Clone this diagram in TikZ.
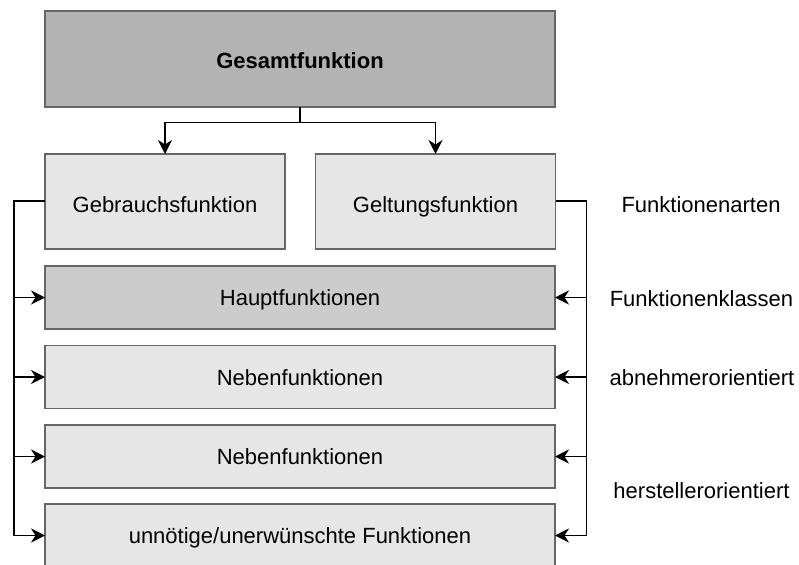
\documentclass[tikz,border=0pt]{standalone}
\usepackage{fontspec}
\setmainfont{Liberation Sans}
\usetikzlibrary{arrows.meta}
\definecolor{strokegray}{HTML}{666666}
\definecolor{filldark}{HTML}{B3B3B3}
\definecolor{fillmid}{HTML}{CCCCCC}
\definecolor{filllight}{HTML}{E6E6E6}
\tikzset{
  fbox/.style={draw=strokegray, line width=1.3pt, inner sep=0pt, outer sep=0pt,
    font=\fontsize{22}{26}\selectfont, text depth=0pt, text height=16.75pt},
  widebox/.style={fbox, minimum width=510pt, minimum height=63pt},
  halfbox/.style={fbox, fill=filllight, minimum width=240pt, minimum height=95pt,
    text height=21.75pt},
  link/.style={line width=1.6pt, draw=black},
  arr/.style={link, -{Stealth[length=14pt, width=14pt, inset=4.5pt]}},
  sidelabel/.style={font=\fontsize{22}{26}\selectfont, inner sep=0pt,
    text height=15.75pt, text depth=0pt}
}
\begin{document}
\begin{tikzpicture}[x=1pt, y=-1pt]
  \clip (0,0) rectangle (799,564);
  \fill[white] (0,0) rectangle (799,564);

  % top level
  \node[fbox, fill=filldark, minimum width=510pt, minimum height=96pt,
        text height=19.75pt,
        font=\fontsize{22}{26}\selectfont\bfseries] (ges) at (300,59) {Gesamtfunktion};

  % kinds of function
  \node[halfbox] (geb) at (165,201.5) {Gebrauchsfunktion};
  \node[halfbox] (gel) at (435.5,201.5) {Geltungsfunktion};

  % classes of function
  \node[widebox, fill=fillmid]   (haupt) at (300,297.5) {Hauptfunktionen};
  \node[widebox, fill=filllight] (nebA)  at (300,377)   {Nebenfunktionen};
  \node[widebox, fill=filllight] (nebB)  at (300,456.5) {Nebenfunktionen};
  \node[widebox, fill=filllight] (unn)   at (300,535.5) {unnötige/unerwünschte Funktionen};

  % split below the overall function
  \coordinate (split) at (300,122.5);
  \draw[link] (ges.south) -- (split);
  \draw[arr] (split) -| (geb.north);
  \draw[arr] (split) -| (gel.north);

  % left bus from Gebrauchsfunktion
  \coordinate (lbus) at (14,201);
  \draw[link] (geb.west |- lbus) -- (lbus) -- (lbus |- unn.west);
  \draw[arr] (lbus |- haupt.west) -- (haupt.west);
  \draw[arr] (lbus |- nebA.west) -- (nebA.west);
  \draw[arr] (lbus |- nebB.west) -- (nebB.west);
  \draw[arr] (lbus |- unn.west) -- (unn.west);

  % right bus from Geltungsfunktion
  \coordinate (rbus) at (586.5,201);
  \draw[link] (gel.east |- rbus) -- (rbus) -- (rbus |- unn.east);
  \draw[arr] (rbus |- haupt.east) -- (haupt.east);
  \draw[arr] (rbus |- nebA.east) -- (nebA.east);
  \draw[arr] (rbus |- nebB.east) -- (nebB.east);
  \draw[arr] (rbus |- unn.east) -- (unn.east);

  % side labels
  \node[sidelabel] (lArten)   at (701,204.7)   {Funktionenarten};
  \node[sidelabel] (lKlassen) at (701.5,298.3) {Funktionenklassen};
  \node[sidelabel] (lAbn)     at (702,377.5)   {abnehmerorientiert};
  \node[sidelabel] (lHer)     at (701.5,490.8) {herstellerorientiert};
\end{tikzpicture}
\end{document}
